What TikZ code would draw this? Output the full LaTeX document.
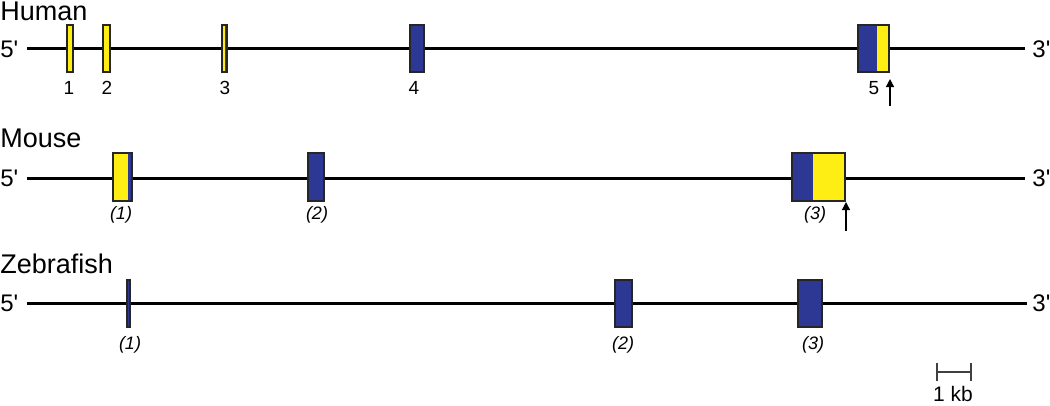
\documentclass[tikz,border=0pt]{standalone}
\usepackage{fontspec}
\setmainfont{Liberation Sans}
\usetikzlibrary{arrows.meta}
\definecolor{exonblue}{RGB}{44,56,148}
\definecolor{exonyellow}{RGB}{255,238,20}

\begin{document}
\begin{tikzpicture}[x=1pt,y=-1pt,thick,
              species/.style={anchor=base west,inner sep=0pt,font=\fontsize{27}{27}\selectfont},
              prime/.style={anchor=base west,inner sep=0pt,font=\fontsize{24}{24}\selectfont},
              num/.style={anchor=base,inner sep=0pt,font=\fontsize{19}{19}\selectfont},
              inum/.style={num,font=\fontsize{18}{18}\selectfont\itshape},
              strand/.style={line width=3pt},
              exon/.style={rectangle,draw=black!85,line width=2pt,inner sep=0pt,minimum height=47.5pt},
              blue exon/.style={exon,fill=exonblue},
              yellow exon/.style={exon,fill=exonyellow},
              yb exon/.style={exon,fill=exonyellow,path picture={
                  \fill[exonblue] ([xshift=-#1]path picture bounding box.south east) rectangle (path picture bounding box.north east);}},
              by exon/.style={exon,fill=exonyellow,path picture={
                  \fill[exonblue] (path picture bounding box.south west) rectangle ([xshift=#1]path picture bounding box.north west);}},
              tss/.style={-{Triangle[width=8pt,length=8pt]},line width=1.3pt},
              scalebar/.style={{Bar[width=18pt]}-{Bar[width=18pt]},line width=1.8pt,draw=black!75}]

            \useasboundingbox (0,0) rectangle (1050,405);

            % Human
            \node[species] (human) at (0,20) {Human};
            \node[prime] (h5p) at (0,57) {5\textquotesingle};
            \node[prime] (h3p) at (1032,57) {3\textquotesingle};
            \coordinate (hs) at (27,48);
            \coordinate (he) at (1025,48);
            \draw[strand] (hs) -- (he);

            \node[yellow exon,minimum width=6.5pt] (h1) at (70,48.5) {};
            \node[yellow exon,minimum width=7pt] (h2) at (106.5,48.5) {};
            \node[yb exon=2.5pt,minimum width=5.5pt] (h3) at (224.5,48.5) {};
            \node[blue exon,minimum width=14pt] (h4) at (417,48.5) {};
            \node[by exon=19pt,minimum width=31pt] (h5) at (873.5,48.5) {};

            \node[num] (h1n) at (69,94) {1};
            \node[num] (h2n) at (107,94) {2};
            \node[num] (h3n) at (225,94) {3};
            \node[num] (h4n) at (414,94) {4};
            \node[num] (h5n) at (874,94) {5};

            \coordinate (h5tail) at (890,106);
            \coordinate (h5tip) at (890,79);
            \draw[tss] (h5tail) -- (h5tip);

            % Mouse
            \node[species] (mouse) at (0,147) {Mouse};
            \node[prime] (m5p) at (0,186) {5\textquotesingle};
            \node[prime] (m3p) at (1032,186) {3\textquotesingle};
            \coordinate (ms) at (27,178);
            \coordinate (me) at (1025,178);
            \draw[strand] (ms) -- (me);

            \node[yb exon=4pt,minimum width=19pt] (m1) at (122.5,177) {};
            \node[blue exon,minimum width=16pt] (m2) at (316,177) {};
            \node[by exon=21pt,minimum width=53pt] (m3) at (818.5,177) {};

            \node[inum] (m1n) at (121,219) {(1)};
            \node[inum] (m2n) at (317,219) {(2)};
            \node[inum] (m3n) at (815,219) {(3)};

            \coordinate (m3tail) at (846,231);
            \coordinate (m3tip) at (846,202);
            \draw[tss] (m3tail) -- (m3tip);

            % Zebrafish
            \node[species] (zebrafish) at (0,273) {Zebrafish};
            \node[prime] (z5p) at (0,311) {5\textquotesingle};
            \node[prime] (z3p) at (1032,311) {3\textquotesingle};
            \coordinate (zs) at (27,303);
            \coordinate (ze) at (1027,303);
            \draw[strand] (zs) -- (ze);

            \node[blue exon,minimum width=3.5pt] (z1) at (128.5,303.5) {};
            \node[blue exon,minimum width=17pt] (z2) at (623.5,303.5) {};
            \node[blue exon,minimum width=24pt] (z3) at (810,303.5) {};

            \node[inum] (z1n) at (130,349) {(1)};
            \node[inum] (z2n) at (623,349) {(2)};
            \node[inum] (z3n) at (813,349) {(3)};

            % scale
            \coordinate (kbl) at (936,372);
            \coordinate (kbr) at (972,372);
            \draw[scalebar] (kbl) -- (kbr);
            \node[num,font=\fontsize{21}{21}\selectfont] (kb) at (953,401) {1 kb};

          \end{tikzpicture}
\end{document}
